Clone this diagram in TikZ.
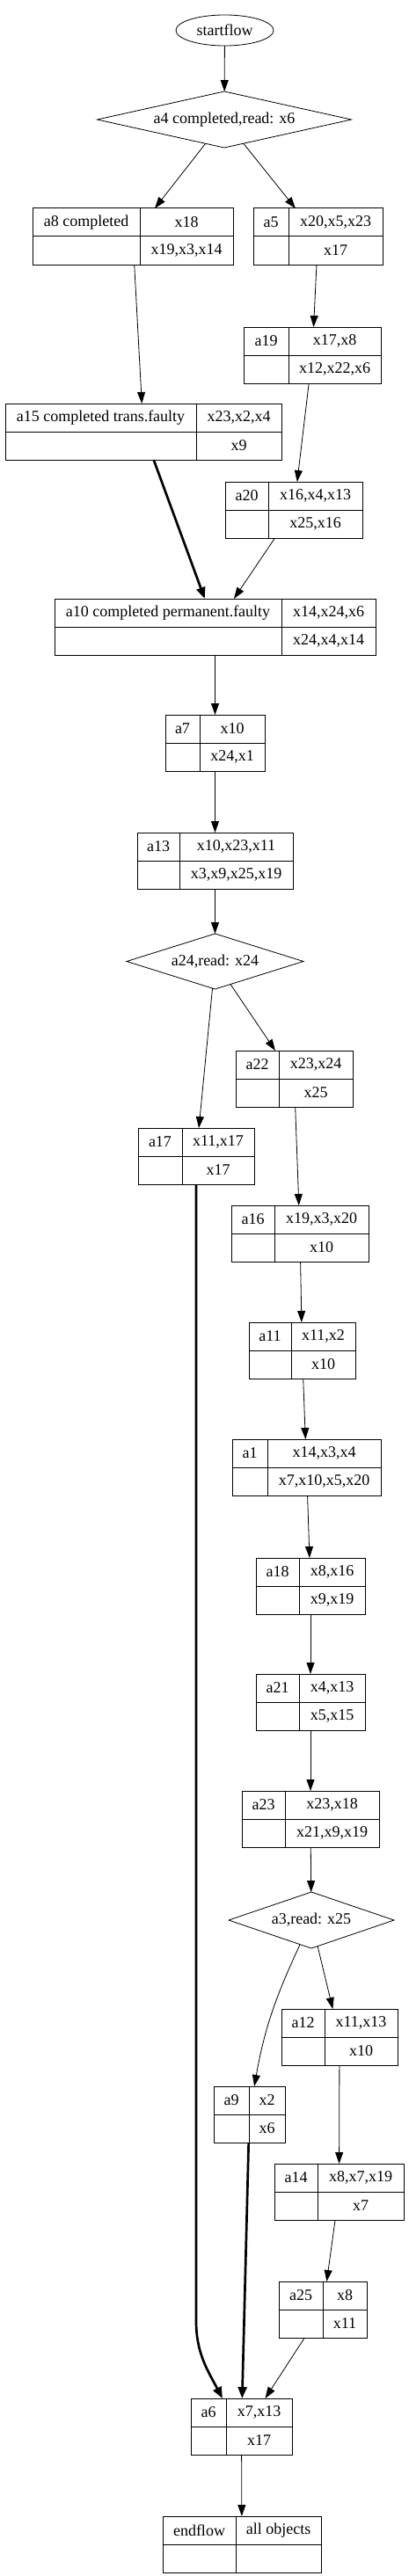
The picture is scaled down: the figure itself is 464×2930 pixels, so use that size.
\documentclass[tikz,border=0pt]{standalone}
\usepackage{fontspec}
\setmainfont{Liberation Serif}
\usetikzlibrary{shapes.geometric, arrows.meta, positioning}

% record: name, left x, divider x, right x, top y, label, top cell, bottom cell
\newcommand{\recnode}[8]{%
    \node (#1) [recbox, minimum width={(#4-#2)*1pt}, anchor=north west] at (#2,#5) {};
    \draw [recline] (#3,#5) -- (#3,{#5+64}) (#2,{#5+32}) -- (#4,{#5+32});
    \node (#1-lab) [celltext] at ({(#2+#3)/2},{#5+16}) {#6};
    \node (#1-wr) [celltext] at ({(#3+#4)/2},{#5+16}) {#7};
    \node (#1-rd) [celltext] at ({(#3+#4)/2},{#5+48}) {#8};
}

\begin{document}
\begin{tikzpicture}[
        x=1pt, y=-1pt,
        font=\fontsize{18}{21}\selectfont,
        recbox/.style = {draw, rectangle, line width=1pt, minimum height=64pt, inner sep=0pt, outer sep=0pt},
        recline/.style = {line width=1pt},
        celltext/.style = {inner sep=0pt},
        startnode/.style = {draw, ellipse, line width=0.8pt, minimum width=111pt, minimum height=35pt, inner sep=0pt, outer sep=0pt},
        decision/.style = {draw, diamond, line width=0.8pt, inner sep=0pt, outer sep=0pt},
        arrow/.style = {draw=black, line width=0.8pt, -{Triangle[length=13pt, width=9pt]}},
        boldarrow/.style = {draw=black, line width=2.7pt, -{Triangle[length=13pt, width=10pt]}}
    ]
        \useasboundingbox (0,0) rectangle (464,2930);

        % Start and first decision
        \node (startflow) [startnode] at (255.5,34.5) {startflow};
        \node (a4) [decision, aspect=4.5, minimum width=289pt, minimum height=64pt] at (255,136) {a4 completed,read: x6};

        % Upper branches
        \recnode{a8}{37}{159}{265}{237}{a8 completed}{x18}{x19,x3,x14}
        \recnode{a5}{288}{328}{435}{237}{a5}{x20,x5,x23}{x17}
        \recnode{a19}{277}{328}{433}{372}{a19}{x17,x8}{x12,x22,x6}
        \recnode{a15}{6}{223}{320}{459}{a15 completed trans.faulty}{x23,x2,x4}{x9}
        \recnode{a20}{256}{305}{412}{548}{a20}{x16,x4,x13}{x25,x16}

        % Merge
        \recnode{a10}{62}{320}{427}{681}{a10 completed permanent.faulty}{x14,x24,x6}{x24,x4,x14}
        \recnode{a7}{188}{227}{301}{813}{a7}{x10}{x24,x1}
        \recnode{a13}{156}{204}{333}{947}{a13}{x10,x23,x11}{x3,x9,x25,x19}
        \node (a24) [decision, aspect=3.2, minimum width=201pt, minimum height=63pt] at (244.5,1093.5) {a24,read: x24};

        % Middle branches
        \recnode{a17}{157}{207}{289}{1283}{a17}{x11,x17}{x17}
        \recnode{a22}{268}{317}{401}{1195}{a22}{x23,x24}{x25}
        \recnode{a16}{263}{312}{419}{1371}{a16}{x19,x3,x20}{x10}
        \recnode{a11}{283}{331}{404}{1504}{a11}{x11,x2}{x10}
        \recnode{a1}{264}{304}{433}{1637}{a1}{x14,x3,x4}{x7,x10,x5,x20}
        \recnode{a18}{291}{340}{415}{1772}{a18}{x8,x16}{x9,x19}
        \recnode{a21}{291}{340}{415}{1904}{a21}{x4,x13}{x5,x15}
        \recnode{a23}{275}{324}{431}{2037}{a23}{x23,x18}{x21,x9,x19}
        \node (a3) [decision, aspect=2.9, minimum width=188pt, minimum height=64pt] at (354,2184) {a3,read: x25};

        % Lower branches
        \recnode{a12}{320}{369}{452}{2285}{a12}{x11,x13}{x10}
        \recnode{a9}{243}{283}{324}{2373}{a9}{x2}{x6}
        \recnode{a14}{312}{361}{459}{2461}{a14}{x8,x7,x19}{x7}
        \recnode{a25}{317}{367}{417}{2595}{a25}{x8}{x11}

        % End
        \recnode{a6}{217}{257}{332}{2728}{a6}{x7,x13}{x17}
        \recnode{endflow}{185}{268}{365}{2862}{endflow}{all objects}{}

        % Arrows
        \draw [arrow] (startflow) -- (a4);
        \draw [arrow] (a4) -- (a8);
        \draw [arrow] (a4) -- (a5);
        \draw [arrow] (a8) -- (a15);
        \draw [arrow] (a5) -- (a19);
        \draw [arrow] (a19) -- (a20);
        \draw [boldarrow] (a15) -- (a10);
        \draw [arrow] (a20) -- (a10);

        \draw [arrow] (a10) -- (a7);
        \draw [arrow] (a7) -- (a13);
        \draw [arrow] (a13) -- (a24);
        \draw [arrow] (a24) -- (a17);
        \draw [arrow] (a24) -- (a22);

        \draw [arrow] (a22) -- (a16);
        \draw [arrow] (a16) -- (a11);
        \draw [arrow] (a11) -- (a1);
        \draw [arrow] (a1) -- (a18);
        \draw [arrow] (a18) -- (a21);
        \draw [arrow] (a21) -- (a23);
        \draw [arrow] (a23) -- (a3);

        \draw [arrow] (a3) to[out=245, in=80] (a9);
        \draw [arrow] (a3) -- (a12);
        \draw [arrow] (a12) -- (a14);
        \draw [arrow] (a14) -- (a25);

        \draw [boldarrow] (a17.south) -- ++(0,1293) to[out=-90, in=118] ([xshift=-21.5pt]a6.north);
        \draw [boldarrow] (a9) -- (a6);
        \draw [arrow] (a25) -- ([xshift=27pt]a6.north);
        \draw [arrow] (a6) -- (endflow);

    \end{tikzpicture}
\end{document}
